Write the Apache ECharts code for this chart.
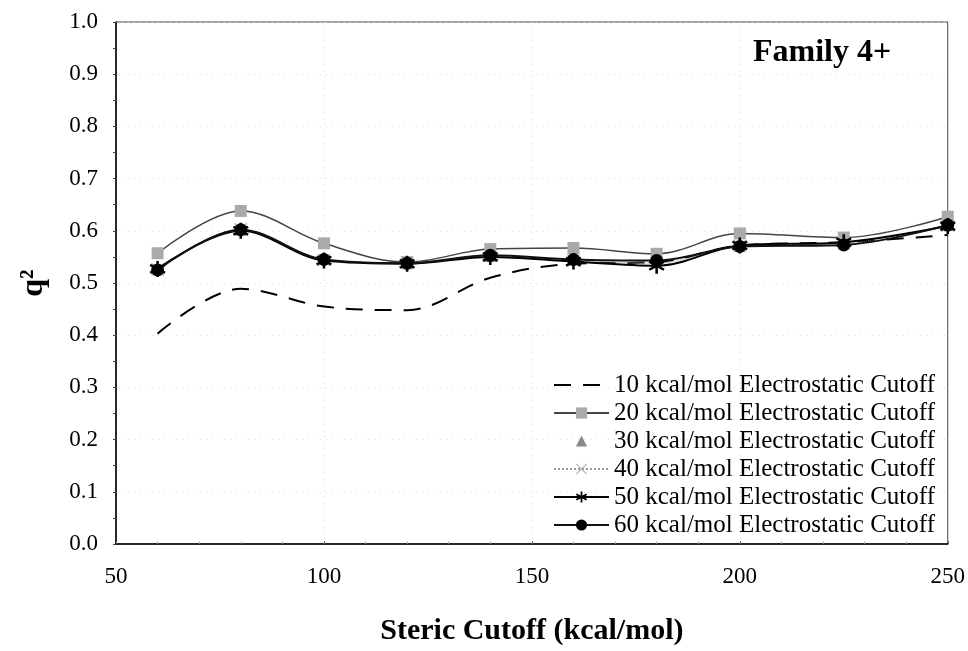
<!DOCTYPE html>
<html>
<head>
<meta charset="utf-8">
<script src="https://cdn.jsdelivr.net/npm/echarts@6/dist/echarts.min.js"></script>
<style>html,body{margin:0;padding:0;background:#fff}#c{width:968px;height:651px}</style>
</head>
<body>
<div id="c"></div>
<script>
const stericCutoff = [60, 80, 100, 120, 140, 160, 180, 200, 225, 250];
const e10 = [0.403, 0.489, 0.455, 0.448, 0.510, 0.537, 0.540, 0.572, 0.578, 0.592];
const e20 = [0.557, 0.638, 0.576, 0.540, 0.565, 0.567, 0.556, 0.595, 0.587, 0.627];
const e30 = [0.526, 0.601, 0.545, 0.537, 0.551, 0.544, 0.540, 0.570, 0.575, 0.610];
const e40 = [0.526, 0.603, 0.544, 0.539, 0.552, 0.543, 0.538, 0.571, 0.576, 0.610];
const e50 = [0.527, 0.600, 0.543, 0.537, 0.550, 0.541, 0.533, 0.572, 0.578, 0.609];
const e60 = [0.525, 0.602, 0.545, 0.538, 0.553, 0.545, 0.543, 0.570, 0.573, 0.611];
const seriesNames = [
  '10 kcal/mol Electrostatic Cutoff',
  '20 kcal/mol Electrostatic Cutoff',
  '30 kcal/mol Electrostatic Cutoff',
  '40 kcal/mol Electrostatic Cutoff',
  '50 kcal/mol Electrostatic Cutoff',
  '60 kcal/mol Electrostatic Cutoff'
];
const xTickLabels = ['50', '100', '150', '200', '250'];
const yTickLabels = ['0.0','0.1','0.2','0.3','0.4','0.5','0.6','0.7','0.8','0.9','1.0'];

const pair = arr => stericCutoff.map((x, i) => [x, arr[i]]);
const FONT = 'Liberation Serif';
const starPath = 'path://M-1.5,-10L1.5,-10L1.5,10L-1.5,10Z M-7.91,-6.299L9.41,3.701L7.91,6.299L-9.41,-3.701Z M9.41,-3.701L-7.91,6.299L-9.41,3.701L7.91,-6.299Z';
const xPath = 'path://M-7.63,-6.57L6.57,7.63L7.63,6.57L-6.57,-7.63Z M6.57,-7.63L-7.63,6.57L-6.57,7.63L7.63,-6.57Z';

const chart = echarts.init(document.getElementById('c'));
chart.setOption({
  animation: false,
  backgroundColor: '#fff',
  textStyle: { fontFamily: FONT },
  title: {
    text: 'Family 4+',
    left: 748, top: 32,
    textStyle: { fontFamily: FONT, fontWeight: 'bold', fontSize: 32, color: '#000' }
  },
  grid: { left: 116, right: 20, top: 22, bottom: 106, show: true, borderColor: '#444', borderWidth: 1 },
  legend: {
    orient: 'vertical',
    left: 548, top: 366,
    itemWidth: 55, itemHeight: 14, itemGap: 0,
    textStyle: { fontFamily: FONT, fontSize: 25, color: '#000', lineHeight: 28 },
    data: [
      { name: seriesNames[0], itemStyle: { opacity: 0 } },
      seriesNames[1], seriesNames[2], seriesNames[3], seriesNames[4], seriesNames[5]
    ]
  },
  xAxis: {
    type: 'value', min: 50, max: 250, interval: 50,
    name: 'Steric Cutoff (kcal/mol)', nameLocation: 'middle', nameGap: 72,
    nameTextStyle: { fontFamily: FONT, fontWeight: 'bold', fontSize: 30, color: '#000' },
    axisLine: { show: true, lineStyle: { color: '#000', width: 1.5 } },
    axisTick: { show: true, inside: true, length: 3, lineStyle: { color: '#666' } },
    minorTick: { show: true, splitNumber: 5, length: 2, lineStyle: { color: '#999' } },
    axisLabel: { margin: 21, fontFamily: FONT, fontSize: 23, color: '#000',
      formatter: v => xTickLabels[Math.round((v - 50) / 50)] },
    splitLine: { show: true, lineStyle: { color: '#dcdcdc', type: [1, 5], width: 1 } }
  },
  yAxis: {
    type: 'value', min: 0, max: 1, interval: 0.1,
    name: 'q²', nameLocation: 'middle', nameGap: 66, nameRotate: 90,
    nameTextStyle: { fontFamily: FONT, fontWeight: 'bold', fontSize: 32, color: '#000' },
    axisLine: { show: true, lineStyle: { color: '#000', width: 1.5 } },
    axisTick: { show: true, inside: false, length: 3, lineStyle: { color: '#444' } },
    minorTick: { show: true, splitNumber: 2, length: 3, lineStyle: { color: '#444' } },
    axisLabel: { margin: 18, fontFamily: FONT, fontSize: 23, color: '#000',
      formatter: v => yTickLabels[Math.round(v * 10)] },
    splitLine: { show: true, lineStyle: { color: '#dcdcdc', type: [1, 5], width: 1 } }
  },
  series: [
    { name: seriesNames[0], type: 'line', data: pair(e10), smooth: 0.35, showSymbol: false, symbol: 'none',
      lineStyle: { color: '#000', width: 2, type: [17, 12] }, itemStyle: { color: '#000' }, z: 2 },
    { name: seriesNames[1], type: 'line', data: pair(e20), smooth: 0.35, symbol: 'rect', symbolSize: 12,
      lineStyle: { color: '#444', width: 1.5 }, itemStyle: { color: '#aaaaaa' }, z: 3 },
    { name: seriesNames[2], type: 'line', data: pair(e30), smooth: 0.35, symbol: 'triangle', symbolSize: 11,
      lineStyle: { color: '#888', width: 0, opacity: 0 }, itemStyle: { color: '#8a8a8a' }, z: 3 },
    { name: seriesNames[3], type: 'line', data: pair(e40), smooth: 0.35, symbol: xPath, symbolSize: 13,
      lineStyle: { color: '#999', width: 1, type: 'dotted' }, itemStyle: { color: '#b0b0b0' }, z: 3 },
    { name: seriesNames[4], type: 'line', data: pair(e50), smooth: 0.35, symbol: starPath, symbolSize: 16,
      lineStyle: { color: '#000', width: 2 }, itemStyle: { color: '#000' }, z: 4 },
    { name: seriesNames[5], type: 'line', data: pair(e60), smooth: 0.35, symbol: 'circle', symbolSize: 13,
      lineStyle: { color: '#111', width: 2 }, itemStyle: { color: '#000' }, z: 5 }
  ]
});
</script>
</body>
</html>
